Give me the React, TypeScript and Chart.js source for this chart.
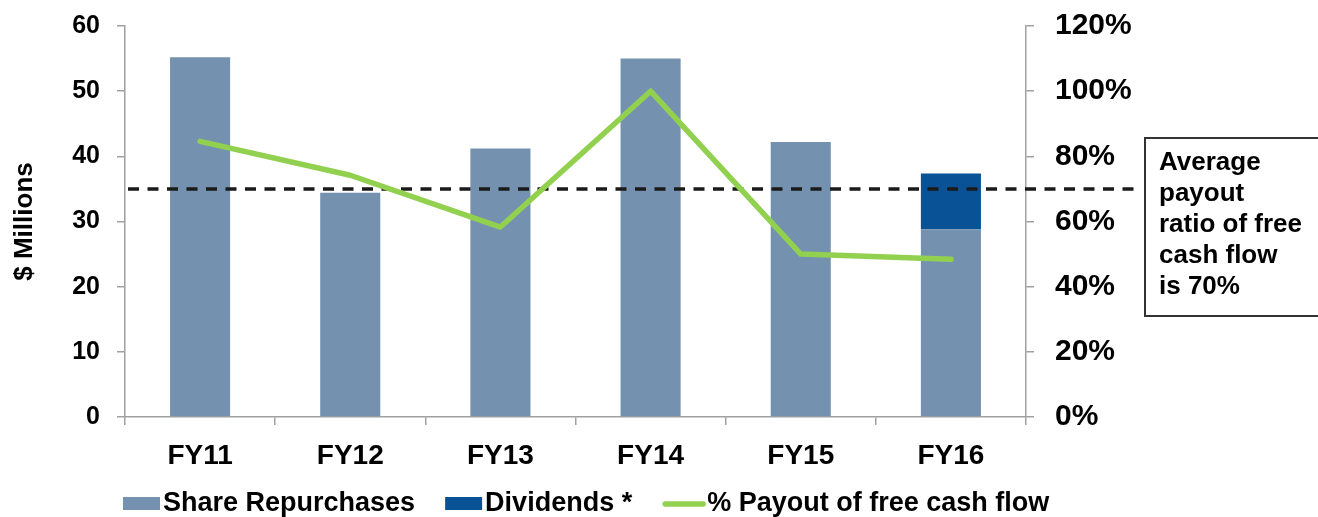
import React, { useEffect, useRef } from "react";
import { Chart, registerables } from "chart.js";

Chart.register(...registerables);

const categories = ["FY11", "FY12", "FY13", "FY14", "FY15", "FY16"];
const shareRepurchases = [55.2, 34.4, 41.2, 55.0, 42.2, 28.8];
const dividends = [null, null, null, null, null, 8.55];
const payoutPct = [84.6, 74.2, 58.3, 100.0, 50.0, 48.4];
const averagePayout = 70;
const seriesLabels = ["Share Repurchases", "Dividends *", "% Payout of free cash flow"];
const annotationLines = ["Average", "payout", "ratio of free", "cash flow", "is 70%"];
const leftAxisTitle = "$ Millions";

const FONT = "'Liberation Sans', Arial, Helvetica, sans-serif";
const COLOR_REPURCHASE = "#7491AF";
const COLOR_DIVIDEND = "#0A5296";
const COLOR_LINE = "#92D050";
const AXIS_GREY = "#A0A0A0";

const overlayPlugin = {
  id: "overlay",
  beforeDatasetDraw(chart: any, args: any) {
    if (args.meta.type !== "line") return;
    const ctx = chart.ctx;
    const y = chart.scales.y1.getPixelForValue(averagePayout);
    ctx.save();
    ctx.strokeStyle = "#1A1A1A";
    ctx.lineWidth = 3.5;
    ctx.setLineDash([11, 8.5]);
    ctx.beginPath();
    ctx.moveTo(chart.chartArea.left + 3, y);
    ctx.lineTo(1136, y);
    ctx.stroke();
    ctx.restore();
  },
  afterDraw(chart: any) {
    const ctx = chart.ctx;
    ctx.save();
    // annotation box
    ctx.strokeStyle = "#333333";
    ctx.lineWidth = 2;
    ctx.strokeRect(1145, 138, 200, 178);
    ctx.fillStyle = "#000";
    ctx.font = `bold 26px ${FONT}`;
    ctx.textBaseline = "alphabetic";
    ctx.textAlign = "left";
    annotationLines.forEach((t, i) => {
      ctx.fillText(t, 1159, 170 + i * 31);
    });

    // legend
    ctx.font = `bold 27px ${FONT}`;
    const ds = chart.data.datasets;
    let x = 123;
    const baseline = 511;
    ds.forEach((d: any) => {
      if (d.type === "line") {
        ctx.strokeStyle = d.borderColor;
        ctx.lineWidth = 5.5;
        ctx.lineCap = "round";
        ctx.beginPath();
        ctx.moveTo(x + 3, 504);
        ctx.lineTo(x + 41, 504);
        ctx.stroke();
        x += 45;
      } else {
        ctx.fillStyle = d.backgroundColor;
        ctx.fillRect(x, 497, 37, 13);
        x += 40;
      }
      ctx.fillStyle = "#000";
      ctx.fillText(d.label, x, baseline);
      x += ctx.measureText(d.label).width + 30;
    });
    ctx.restore();
  },
};

export default function App() {
  const ref = useRef<HTMLCanvasElement | null>(null);
  useEffect(() => {
    if (!ref.current) return;
    const chart = new Chart(ref.current, {
      type: "bar",
      data: {
        labels: categories,
        datasets: [
          {
            type: "bar",
            label: seriesLabels[0],
            data: shareRepurchases,
            backgroundColor: COLOR_REPURCHASE,
            borderWidth: 0,
            barPercentage: 0.4,
            categoryPercentage: 1,
            yAxisID: "y",
            order: 1,
          },
          {
            type: "bar",
            label: seriesLabels[1],
            data: dividends as any,
            backgroundColor: COLOR_DIVIDEND,
            borderWidth: 0,
            barPercentage: 0.4,
            categoryPercentage: 1,
            yAxisID: "y",
            order: 1,
          },
          {
            type: "line",
            label: seriesLabels[2],
            data: payoutPct,
            borderColor: COLOR_LINE,
            backgroundColor: COLOR_LINE,
            borderWidth: 5.5,
            pointRadius: 0,
            tension: 0,
            borderCapStyle: "round",
            borderJoinStyle: "round",
            yAxisID: "y1",
            order: 0,
          } as any,
        ],
      },
      options: {
        responsive: false,
        animation: false,
        layout: { padding: { top: 26, left: 0, right: 0, bottom: 0 } },
        plugins: {
          legend: { display: false },
          tooltip: { enabled: false },
        },
        scales: {
          x: {
            stacked: true,
            offset: true,
            grid: {
              offset: true,
              drawOnChartArea: false,
              drawTicks: true,
              tickLength: 8,
              color: AXIS_GREY,
              lineWidth: 1.5,
            },
            border: { color: AXIS_GREY, width: 1.5 },
            ticks: {
              font: { family: FONT, size: 28, weight: "bold" },
              color: "#000",
              padding: 14,
              maxRotation: 0,
              autoSkip: false,
            },
            afterFit: (s: any) => {
              s.height = 100;
              s.paddingLeft = 0;
              s.paddingRight = 0;
            },
          },
          y: {
            stacked: true,
            position: "left",
            min: 0,
            max: 60,
            grid: {
              drawOnChartArea: false,
              drawTicks: true,
              tickLength: 8,
              color: AXIS_GREY,
              lineWidth: 1.5,
            },
            border: { color: AXIS_GREY, width: 1.5 },
            ticks: {
              stepSize: 10,
              font: { family: FONT, size: 25, weight: "bold" },
              color: "#000",
              padding: 17,
            },
            title: {
              display: true,
              text: leftAxisTitle,
              font: { family: FONT, size: 26, weight: "bold" },
              color: "#000",
              padding: { top: 9, bottom: 0 },
            },
            afterFit: (s: any) => {
              s.width = 125;
              s.paddingTop = 0;
              s.paddingBottom = 0;
            },
          },
          y1: {
            position: "right",
            min: 0,
            max: 120,
            grid: {
              drawOnChartArea: false,
              drawTicks: true,
              tickLength: 8,
              color: AXIS_GREY,
              lineWidth: 1.5,
            },
            border: { color: AXIS_GREY, width: 1.5 },
            ticks: {
              stepSize: 20,
              font: { family: FONT, size: 30, weight: "bold" },
              color: "#000",
              padding: 21,
              callback: (v: any) => `${v}%`,
            },
            afterFit: (s: any) => {
              s.width = 292;
              s.paddingTop = 0;
              s.paddingBottom = 0;
            },
          },
        },
      } as any,
      plugins: [overlayPlugin],
    });
    return () => chart.destroy();
  }, []);

  return (
    <div style={{ position: "absolute", left: 0, top: 0, width: 1318, height: 517, background: "#fff" }}>
      <canvas ref={ref} width={1318} height={517} style={{ display: "block", width: 1318, height: 517 }} />
    </div>
  );
}
